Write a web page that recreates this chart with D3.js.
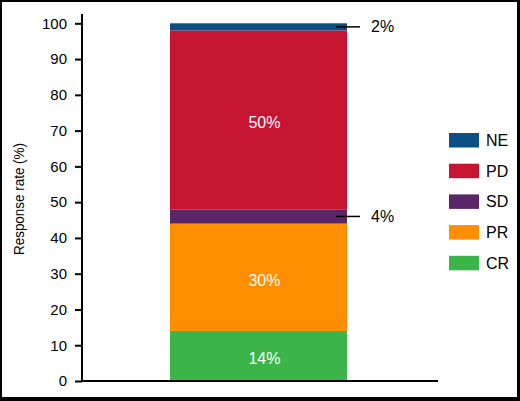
<!DOCTYPE html>
<html>
<head>
<meta charset="utf-8">
<script src="https://cdn.jsdelivr.net/npm/d3@7"></script>
<style>
  html, body { margin: 0; padding: 0; background: #fff; }
  svg { display: block; }
  text { font-family: "Liberation Sans", Arial, Helvetica, sans-serif; }
</style>
</head>
<body>
<svg id="chart" width="520" height="401"></svg>
<script>
// ---- data ----
const categories = ["CR", "PR", "SD", "PD", "NE"];           // stack order, bottom to top
const values = [14, 30, 4, 50, 2];                             // percent
const colors = ["#3bb54a", "#ff8f00", "#5b2668", "#c51532", "#0c4f85"];
const legendOrder = ["NE", "PD", "SD", "PR", "CR"];
const insideLabels = ["CR", "PR", "PD"];
const outsideLabels = ["SD", "NE"];
const yTicks = [0, 10, 20, 30, 40, 50, 60, 70, 80, 90, 100];
const yTitle = "Response rate (%)";
const group = ["All"];

const svg = d3.select("#chart");
const W = 520, H = 401;

// frame
svg.append("rect").attr("x", 0).attr("y", 0).attr("width", W).attr("height", H).attr("fill", "#000");
svg.append("rect").attr("x", 2).attr("y", 2).attr("width", 515).attr("height", 395).attr("fill", "#fff");

const y = d3.scaleLinear().domain([0, 102.6]).range([381, 14]);
const x = d3.scaleBand().domain(group).range([82, 438]).paddingInner(0).paddingOuter(0.5057).align(0.4916);
const color = d3.scaleOrdinal().domain(categories).range(colors);

// stacked data
const row = { g: group[0] };
categories.forEach((c, i) => row[c] = values[i]);
const stack = d3.stack().keys(categories)([row]);

// bars
svg.append("g").selectAll("rect").data(stack).join("rect")
  .attr("x", x(group[0]))
  .attr("width", x.bandwidth())
  .attr("y", d => y(d[0][1]))
  .attr("height", d => y(d[0][0]) - y(d[0][1]))
  .attr("fill", d => color(d.key));

// inside labels
svg.append("g").selectAll("text").data(stack.filter(s => insideLabels.includes(s.key))).join("text")
  .attr("x", x(group[0]) + x.bandwidth() / 2 + 6)
  .attr("y", d => y((d[0][0] + d[0][1]) / 2) + 3)
  .attr("text-anchor", "middle")
  .attr("dominant-baseline", "central")
  .attr("fill", "#fff")
  .attr("font-size", 16)
  .text(d => (d[0][1] - d[0][0]) + "%");

// outside labels with leader lines
const right = x(group[0]) + x.bandwidth();
const outs = svg.append("g").selectAll("g").data(stack.filter(s => outsideLabels.includes(s.key))).join("g");
outs.append("line")
  .attr("x1", right - 11).attr("x2", right + 13)
  .attr("y1", d => y((d[0][0] + d[0][1]) / 2))
  .attr("y2", d => y((d[0][0] + d[0][1]) / 2))
  .attr("stroke", "#000").attr("stroke-width", 1.5);
outs.append("text")
  .attr("x", right + 24)
  .attr("y", d => y((d[0][0] + d[0][1]) / 2))
  .attr("dominant-baseline", "central")
  .attr("font-size", 16)
  .attr("fill", "#000")
  .text(d => (d[0][1] - d[0][0]) + "%");

// y axis
const yAxis = d3.axisLeft(y).tickValues(yTicks).tickSize(7).tickPadding(8);
const gy = svg.append("g").attr("transform", "translate(82,0)").call(yAxis);
gy.select(".domain").attr("stroke", "#000").attr("stroke-width", 2).attr("d", `M0,${y(102.6)}V${y(0)}`);
gy.selectAll(".tick line").attr("stroke", "#000").attr("stroke-width", 2);
gy.selectAll(".tick text").attr("font-size", 15).attr("fill", "#000")
  .attr("font-family", '"Liberation Sans", Arial, sans-serif');

// x axis line
const xAxis = d3.axisBottom(x).tickSize(0).tickFormat("");
const gx = svg.append("g").attr("transform", `translate(0,${y(0)})`).call(xAxis);
gx.select(".domain").attr("stroke", "#000").attr("stroke-width", 2).attr("d", `M82,0H438`);

// y title
svg.append("text")
  .attr("transform", `translate(24,199) rotate(-90)`)
  .attr("text-anchor", "middle")
  .attr("font-family", '"Liberation Sans Narrow", "Liberation Sans", Arial, sans-serif')
  .attr("font-size", 14)
  .attr("textLength", 112)
  .attr("lengthAdjust", "spacingAndGlyphs")
  .attr("fill", "#000")
  .text(yTitle);

// legend
const leg = svg.append("g").selectAll("g").data(legendOrder).join("g")
  .attr("transform", (d, i) => `translate(449,${133 + i * 30.7})`);
leg.append("rect").attr("width", 30).attr("height", 14.5).attr("fill", d => color(d));
leg.append("text").attr("x", 37).attr("y", 7.5).attr("dominant-baseline", "central")
  .attr("font-size", 16).attr("fill", "#000").text(d => d);
</script>
</body>
</html>
